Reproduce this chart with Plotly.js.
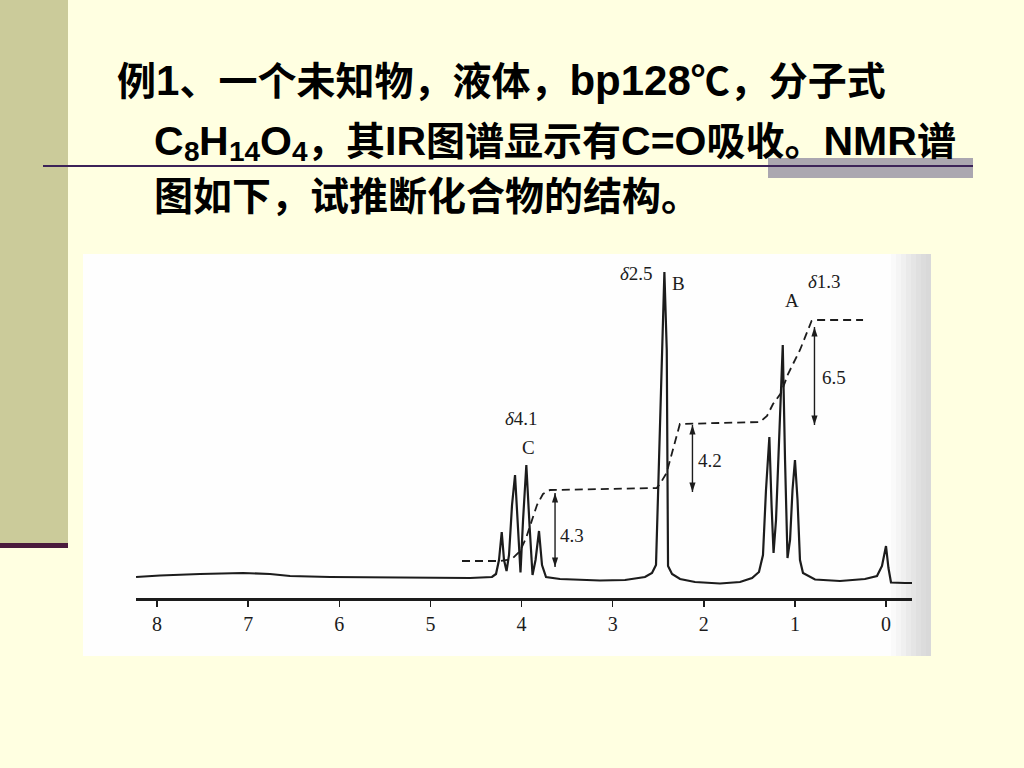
<!DOCTYPE html>
<html>
<head>
<meta charset="utf-8">
<script src="https://cdn.plot.ly/plotly-3.0.1.min.js"></script>
<style>
html,body{margin:0;padding:0;background:#FFFFE1;}
#chart{width:1024px;height:768px;}
</style>
</head>
<body>
<div id="chart"></div>
<script>
// ---- Spectrum (chemical shift in ppm, relative intensity) ----
const ppm = [8.230, 7.967, 7.528, 7.056, 6.760, 6.540, 6.101, 5.553, 5.004, 4.565, 4.324, 4.280, 4.247, 4.217, 4.192, 4.164, 4.137, 4.104, 4.071, 4.044, 4.011, 3.983, 3.947, 3.912, 3.879, 3.846, 3.808, 3.775, 3.731, 3.578, 3.139, 2.864, 2.645, 2.568, 2.524, 2.498, 2.461, 2.432, 2.406, 2.392, 2.348, 2.260, 2.096, 1.822, 1.602, 1.470, 1.394, 1.350, 1.317, 1.280, 1.256, 1.234, 1.207, 1.168, 1.133, 1.108, 1.081, 1.053, 1.026, 0.999, 0.971, 0.944, 0.911, 0.779, 0.505, 0.231, 0.099, 0.044, 0.000, -0.027, -0.055, -0.208, -0.285];
const intensity = [21, 22.5, 24, 25, 24, 22, 21, 20.5, 20.5, 20, 21, 24, 38, 66, 38, 27, 43, 93, 123, 73, 25.5, 78, 133, 73, 23, 38, 67, 33, 21, 19, 17.5, 18, 21, 25, 33, 115, 248, 326, 248, 32, 24, 19, 16, 14.5, 16, 20, 26, 43, 108, 161, 93, 45, 78, 178, 253, 138, 40, 58, 108, 138, 98, 38, 25, 18.5, 17, 19, 22, 32, 52, 30, 15.5, 15, 15];

// ---- Integral curve ----
const integralPpm = [4.653, 4.236, 4.104, 4.016, 3.950, 3.896, 3.830, 3.764, 3.687, 2.517, 2.481, 2.408, 2.338, 2.262, 1.383, 1.306, 1.240, 1.152, 1.075, 0.944, 0.817, 0.768, 0.252];
const integralVal = [37, 37, 39, 47, 60, 75, 93, 104, 108, 110, 114, 125, 148, 174, 176, 182, 194, 205, 224, 248, 277, 278, 278];

// ---- Integral step markers (position, bottom, top) ----
const stepPpm = [3.632, 2.124, 0.785];
const stepLow = [31, 106, 173];
const stepHigh = [105, 173, 271];
const integralLabels = ['4.3', '4.2', '6.5'];

// ---- Axis ticks ----
const tickVals = [0, 1, 2, 3, 4, 5, 6, 7, 8];
const tickText = ['0', '1', '2', '3', '4', '5', '6', '7', '8'];

// ---- Peak labels ----
const peakLabels = ['<i>δ</i>2.5', 'B', 'A', '<i>δ</i>1.3', '<i>δ</i>4.1', 'C'];

// ---- Slide text ----
const line1 = '例<span style="font-size:42px">1</span>、一个未知物，液体，<span style="font-size:42px">bp128</span>℃，分子式';
const formulaParts = ['C', '8', 'H', '14', 'O', '4'];   // C8H14O4, even entries are subscripts
const line2rest = '，其<span style="font-size:41px">IR</span>图谱显示有<span style="font-size:41px">C=O</span>吸收。<span style="font-size:41px">NMR</span>谱';
const line3 = '图如下，试推断化合物的结构。';

// plot-area geometry helpers (pixel -> paper)
const L = 136, R = 912, T = 258, B = 598;
const W = R - L, H = B - T;
const px = v => (v - L) / W;
const py = v => (B - v) / H;

const serif = 'Liberation Serif, Times New Roman, serif';
const sans = 'Liberation Sans, Arial, Noto Sans CJK SC, sans-serif';
const ink = '#1c1c1c';

// build arrow shafts and heads from the step arrays
const shaftX = [], shaftY = [], headX = [], headY = [], headAngle = [];
stepPpm.forEach((x, i) => {
  shaftX.push(x, x, null);
  shaftY.push(stepLow[i], stepHigh[i], null);
  headX.push(x, x);
  headY.push(stepHigh[i], stepLow[i]);
  headAngle.push(0, 180);
});

const traces = [
  {
    x: ppm, y: intensity, type: 'scatter', mode: 'lines',
    line: {color: ink, width: 2.2}, hoverinfo: 'skip', showlegend: false
  },
  {
    x: integralPpm, y: integralVal, type: 'scatter', mode: 'lines',
    line: {color: ink, width: 1.8, dash: '8px,5px'}, hoverinfo: 'skip', showlegend: false
  },
  {
    x: shaftX, y: shaftY, type: 'scatter', mode: 'lines',
    line: {color: ink, width: 1.4}, hoverinfo: 'skip', showlegend: false
  },
  {
    x: headX, y: headY, type: 'scatter', mode: 'markers',
    marker: {symbol: 'arrow', size: 10, angle: headAngle, color: ink, line: {width: 0}},
    hoverinfo: 'skip', showlegend: false, cliponaxis: false
  }
];

const annotations = [];
// peak labels
const peakPos = [[2.733, 325], [2.272, 315], [1.031, 298], [0.680, 317], [4.005, 180], [3.918, 151]];
peakLabels.forEach((t, i) => annotations.push({
  x: peakPos[i][0], y: peakPos[i][1], xref: 'x', yref: 'y', text: t, showarrow: false,
  font: {family: serif, size: 19, color: ink}
}));
// integral labels
const intPos = [[3.446, 63], [1.931, 138], [0.571, 221]];
integralLabels.forEach((t, i) => annotations.push({
  x: intPos[i][0], y: intPos[i][1], xref: 'x', yref: 'y', text: t, showarrow: false,
  font: {family: sans === '' ? serif : serif, size: 19, color: ink}
}));

// slide title lines
const tf = size => ({family: sans, size: size, color: '#000', weight: 'bold'});
const titleAnn = (text, x, y, size) => annotations.push({
  x: px(x), y: py(y), xref: 'paper', yref: 'paper', xanchor: 'left', yanchor: 'middle',
  text: text, showarrow: false, font: tf(size)
});
titleAnn(line1, 115, 80, 39);
// formula with subscripts, laid out piece by piece (Arial Bold advance widths)
const adv = {C: 0.722, H: 0.722, O: 0.778, d: 0.556};
let cx = 152;
formulaParts.forEach((p, i) => {
  const isSub = i % 2 === 1;
  const size = isSub ? 28 : 41;
  titleAnn(p, cx, isSub ? 151 : 141, size);
  const w = isSub ? p.length * adv.d * size : adv[p] * size;
  cx += w;
});
titleAnn(line2rest, cx, 141, 39);
titleAnn(line3, 152, 196, 39);

const shapes = [
  // scanned page background
  {type: 'rect', xref: 'paper', yref: 'paper', x0: px(83), x1: px(931), y0: py(656), y1: py(254),
   fillcolor: '#FEFEFE', line: {width: 0}, layer: 'below'}
];
// right-edge shading of the scan (soft gradient)
const shadeCols = ['#FAFAFA', '#F5F5F5', '#F0F0F0', '#EAEAEA', '#E5E5E5', '#E0E0E0', '#DCDCDC', '#D9D9D9'];
shadeCols.forEach((c, i) => shapes.push({
  type: 'rect', xref: 'paper', yref: 'paper', x0: px(891 + i * 5), x1: px(896 + i * 5), y0: py(656), y1: py(254),
  fillcolor: c, line: {width: 0}, layer: 'below'
}));
shapes.push(
  // left slide bar
  {type: 'rect', xref: 'paper', yref: 'paper', x0: px(0), x1: px(68), y0: py(543), y1: py(0),
   fillcolor: '#CBCB9A', line: {width: 0}, layer: 'below'},
  {type: 'rect', xref: 'paper', yref: 'paper', x0: px(0), x1: px(68), y0: py(548), y1: py(543),
   fillcolor: '#4A1A3C', line: {width: 0}, layer: 'below'},
  // grey block + rule under title
  {type: 'rect', xref: 'paper', yref: 'paper', x0: px(768), x1: px(973), y0: py(178), y1: py(158),
   fillcolor: '#ABA7B0', line: {width: 0}, layer: 'below'},
  {type: 'line', xref: 'paper', yref: 'paper', x0: px(43), x1: px(973), y0: py(166), y1: py(166),
   line: {color: '#3C2358', width: 2}, layer: 'below'}
);

const layout = {
  width: 1024, height: 768,
  margin: {l: L, r: 1024 - R, t: T, b: 768 - B, pad: 0},
  paper_bgcolor: '#FFFFE1', plot_bgcolor: 'rgba(0,0,0,0)',
  showlegend: false,
  xaxis: {
    range: [8.2305, -0.2853], tickvals: tickVals, ticktext: tickText,
    ticks: 'outside', ticklen: 6, tickwidth: 1.5, tickcolor: ink,
    showline: true, linewidth: 2.5, linecolor: ink,
    showgrid: false, zeroline: false, fixedrange: true,
    tickfont: {family: serif, size: 20, color: ink}
  },
  yaxis: {range: [0, 340], visible: false, fixedrange: true},
  shapes: shapes,
  annotations: annotations
};

Plotly.newPlot('chart', traces, layout, {staticPlot: true, displayModeBar: false});
</script>
</body>
</html>
